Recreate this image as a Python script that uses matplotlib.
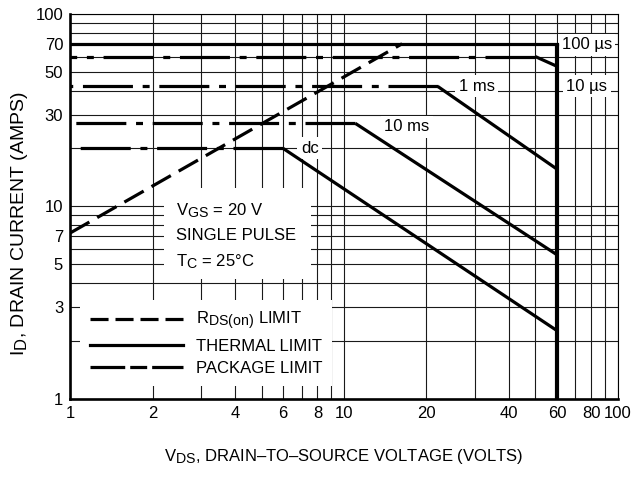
import matplotlib.pyplot as plt
import matplotlib._mathtext as mathtext_core
from matplotlib.lines import Line2D
from matplotlib.patches import Rectangle
from matplotlib.ticker import NullFormatter

plt.rcParams['font.family'] = ['Liberation Sans', 'DejaVu Sans']
plt.rcParams['mathtext.fontset'] = 'custom'
plt.rcParams['mathtext.rm'] = 'Liberation Sans'
plt.rcParams['mathtext.it'] = 'Liberation Sans:italic'
plt.rcParams['mathtext.default'] = 'regular'
plt.rcParams['lines.scale_dashes'] = False
plt.rcParams['font.size'] = 12
# datasheet subscripts are almost full size
mathtext_core.SHRINK_FACTOR = 0.85

# Safe operating area data
pulse_labels = ['10 µs', '1 ms', '10 ms', 'dc']
package_level = [60, 42, 27, 20]      # A, flat package-limited current
break_v = [50, 22, 11, 6]             # V, where the thermal slope begins
end_i = [53.4, 15.6, 5.6, 2.26]       # A, current at V_DSS
i_100us = 70
v_dss = 60
rds_v = [1, 16.3]
rds_i = [7.27, 70]

x_major = [1, 2, 4, 6, 8, 10, 20, 40, 60, 80, 100]
x_minor = [3, 5, 7, 9, 30, 50, 70, 90]
y_major = [1, 3, 5, 7, 10, 30, 50, 70, 100]
y_minor = [2, 4, 6, 8, 9, 20, 40, 60, 80, 90]

fig = plt.figure(figsize=(6.37, 4.8), dpi=100)
ax = fig.add_axes([0.110, 0.169, 0.860, 0.802])
ax.set_xscale('log')
ax.set_yscale('log')
ax.set_xlim(1, 100)
ax.set_ylim(1, 100)

ax.set_xticks(x_major, [str(v) for v in x_major])
ax.set_xticks(x_minor, minor=True)
ax.set_yticks(y_major, [str(v) for v in y_major])
ax.set_yticks(y_minor, minor=True)
ax.xaxis.set_minor_formatter(NullFormatter())
ax.yaxis.set_minor_formatter(NullFormatter())
ax.tick_params(which='both', length=0, labelsize=12)
ax.tick_params(axis='x', pad=5)
ax.tick_params(axis='y', pad=5)
ax.grid(True, which='both', color='#1a1a1a', lw=0.8)
ax.set_axisbelow(True)
for s in ['left', 'bottom']:
    ax.spines[s].set_linewidth(1.9)
for s in ['top', 'right']:
    ax.spines[s].set_linewidth(0.8)

pkg_dash = (0, (36, 7, 5, 7))
lw = 2.3

# package limit (dash-dot, drawn from the break back to 1 V) + thermal slope
for lvl, bv, ei in zip(package_level, break_v, end_i):
    ax.plot([bv, 1], [lvl, lvl], color='black', lw=lw, linestyle=pkg_dash,
            dash_capstyle='butt', zorder=3)
    ax.plot([bv, v_dss], [lvl, ei], color='black', lw=lw, zorder=3,
            solid_capstyle='butt')

# 100 us thermal limit and V_DSS limit
ax.plot([1, v_dss], [i_100us, i_100us], color='black', lw=lw, zorder=3)
ax.vlines(v_dss, 1, i_100us, color='black', lw=3.0, zorder=3)

# R_DS(on) limit
ax.plot(rds_v, rds_i, color='black', lw=lw, linestyle=(0, (16, 6.5)),
        dash_capstyle='butt', zorder=3)

# curve labels
box = dict(facecolor='white', edgecolor='none', pad=2.5)
ax.text(7.5, 20, 'dc', ha='center', va='center', bbox=box, zorder=2)
ax.text(17, 26, '10 ms', ha='center', va='center', bbox=box, zorder=2)
ax.text(30.5, 42, '1 ms', ha='center', va='center', bbox=box, zorder=2)
ax.text(77, 69, '100 µs', ha='center', va='center', bbox=box, zorder=2)
ax.text(77, 42, '10 µs', ha='center', va='center', bbox=box, zorder=2)

# test condition block
ax.add_patch(Rectangle((2.2, 4.2), 7.6 - 2.2, 12.4 - 4.2, facecolor='white',
                       edgecolor='none', zorder=1))
ax.text(2.43, 9.5, r'V$_{GS}$ = 20 V', va='center', zorder=2)
ax.text(2.43, 7.05, 'SINGLE PULSE', va='center', zorder=2)
ax.text(2.43, 5.15, r'T$_{C}$ = 25°C', va='center', zorder=2)

handles = [
    Line2D([], [], color='black', lw=lw, linestyle=(0, (13, 5)), dash_capstyle='butt'),
    Line2D([], [], color='black', lw=lw),
    Line2D([], [], color='black', lw=lw, linestyle=(0, (25, 3.6, 12.2, 3.6)),
           dash_capstyle='butt'),
]
labels = [r'R$_{DS(on)}$ LIMIT', 'THERMAL LIMIT', 'PACKAGE LIMIT']
leg = ax.legend(handles, labels, loc='lower left', bbox_to_anchor=(0.018, 0.034),
                borderaxespad=0, frameon=True, fancybox=False, framealpha=1,
                edgecolor='none', facecolor='white', handlelength=5.6,
                handletextpad=0.75, labelspacing=0.4, borderpad=0.6, fontsize=12)

ax.set_xlabel(r'V$_{DS}$, DRAIN–TO–SOURCE VOLTAGE (VOLTS)', fontsize=12, labelpad=19)
ax.set_ylabel(r'I$_{D}$, DRAIN CURRENT (AMPS)', fontsize=14)
ax.yaxis.set_label_coords(-0.073, 0.455)

fig.savefig('out.png', dpi=100)
